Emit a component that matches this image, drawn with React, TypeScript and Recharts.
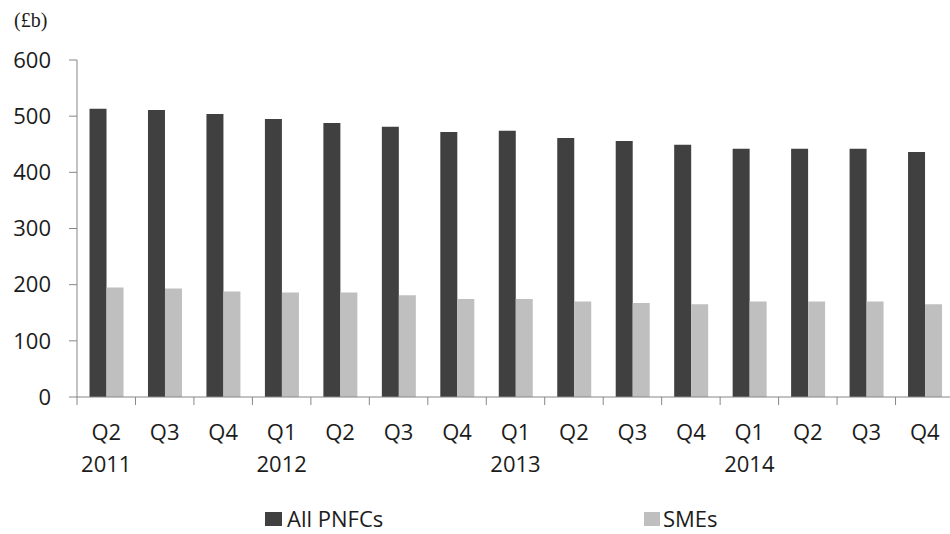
import React from 'react';
import { BarChart, Bar, XAxis, YAxis, Legend } from 'recharts';

const quarters = ['Q2', 'Q3', 'Q4', 'Q1', 'Q2', 'Q3', 'Q4', 'Q1', 'Q2', 'Q3', 'Q4', 'Q1', 'Q2', 'Q3', 'Q4'];
const years = ['2011', '', '', '2012', '', '', '', '2013', '', '', '', '2014', '', '', ''];
const allPnfcs = [513, 511, 504, 495, 488, 481, 472, 474, 461, 456, 449, 442, 442, 442, 436];
const smes = [195, 193, 188, 186, 186, 181, 174.5, 174.5, 170, 167.5, 165, 170, 170, 170, 165];
const yTicks = [0, 100, 200, 300, 400, 500, 600];

const data = quarters.map((q, i) => ({
  key: `${q}-${i}`,
  quarter: q,
  year: years[i],
  all: allPnfcs[i],
  sme: smes[i],
}));

const FONT = '"Open Sans", sans-serif';
const AXIS = '#868686';
const TEXT = '#1c1c1c';
const DARK = '#404040';
const LIGHT = '#bfbfbf';

const CHART_W = 970;
const CHART_H = 534;
const MARGIN = { top: 60, right: 16, bottom: 0, left: 0 };
const Y_WIDTH = 77;
const BAND = (CHART_W - MARGIN.left - MARGIN.right - Y_WIDTH) / quarters.length;

// quarter on the first line, year under it; tick marks sit on the category boundaries
const QuarterTick = (props: any) => {
  const { x, y, payload, index } = props;
  const row = data[index] || data.find((d) => d.key === payload.value);
  const axisY = y - 8;
  return (
    <g>
      <line x1={x - BAND / 2} x2={x - BAND / 2} y1={axisY} y2={axisY + 8} stroke={AXIS} />
      {index === quarters.length - 1 && (
        <line x1={x + BAND / 2} x2={x + BAND / 2} y1={axisY} y2={axisY + 8} stroke={AXIS} />
      )}
      <text x={x} y={y} dy={35} textAnchor="middle" fill={TEXT} fontSize={22} fontFamily={FONT}>
        {row ? row.quarter : ''}
      </text>
      {row && row.year && (
        <text x={x} y={y} dy={67} textAnchor="middle" fill={TEXT} fontSize={22} fontFamily={FONT}>
          {row.year}
        </text>
      )}
    </g>
  );
};

const SeriesLegend = () => (
  <div style={{ position: 'relative', height: 30, width: CHART_W, fontFamily: FONT, fontSize: 22, color: TEXT }}>
    <div style={{ position: 'absolute', left: 265, top: 8, width: 17, height: 14, background: DARK }} />
    <span style={{ position: 'absolute', left: 287, top: -1, lineHeight: '30px' }}>All PNFCs</span>
    <div style={{ position: 'absolute', left: 644, top: 8, width: 16, height: 14, background: LIGHT }} />
    <span style={{ position: 'absolute', left: 663, top: -1, lineHeight: '30px' }}>SMEs</span>
  </div>
);

export default function App() {
  return (
    <div style={{ position: 'absolute', left: 0, top: 0, width: 950, height: 534, overflow: 'hidden', background: '#fff' }}>
      <div
        style={{
          position: 'absolute',
          left: 14,
          top: 9,
          fontFamily: '"Liberation Serif", serif',
          fontSize: 20,
          color: TEXT,
        }}
      >
        (£b)
      </div>
      <BarChart
        width={CHART_W}
        height={CHART_H}
        data={data}
        margin={MARGIN}
        barCategoryGap="21.4%"
        barGap={0}
      >
        <XAxis
          dataKey="key"
          stroke={AXIS}
          tickLine={false}
          tickSize={8}
          tickMargin={0}
          height={107}
          interval={0}
          tick={<QuarterTick />}
        />
        <YAxis
          domain={[0, 600]}
          ticks={yTicks}
          width={Y_WIDTH}
          stroke={AXIS}
          tickSize={8}
          tickMargin={18}
          tick={{ fill: TEXT, fontSize: 22, fontFamily: FONT }}
          interval={0}
        />
        <Legend verticalAlign="bottom" content={<SeriesLegend />} wrapperStyle={{ left: 0, width: CHART_W }} />
        <Bar dataKey="all" name="All PNFCs" fill={DARK} isAnimationActive={false} />
        <Bar dataKey="sme" name="SMEs" fill={LIGHT} isAnimationActive={false} />
      </BarChart>
    </div>
  );
}
